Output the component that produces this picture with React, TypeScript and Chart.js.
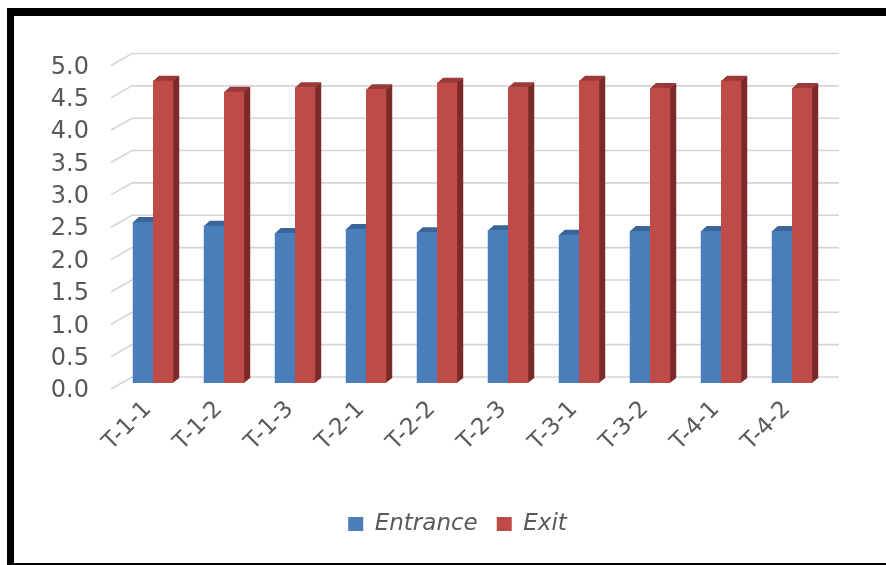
import React, { useEffect, useRef } from "react";
import { Chart, registerables } from "chart.js";

Chart.register(...registerables);

// Sampling points along the x axis
const categories = ["T-1-1", "T-1-2", "T-1-3", "T-2-1", "T-2-2", "T-2-3", "T-3-1", "T-3-2", "T-4-1", "T-4-2"];

// Measured values per point
const entranceValues = [2.49, 2.43, 2.32, 2.38, 2.33, 2.36, 2.29, 2.35, 2.35, 2.35];
const exitValues = [4.67, 4.5, 4.57, 4.54, 4.64, 4.57, 4.67, 4.56, 4.67, 4.56];

// Value axis range
const yMin = 0;
const yMax = 5;
const yStep = 0.5;

const seriesNames = ["Entrance", "Exit"];
const frontColors = ["#4A7EBB", "#BE4B48"];
const capColors = ["#3A6598", "#9A3A38"];
const sideColors = ["#2F5485", "#7A2B29"];

const TEXT_COLOR = "#595959";
const FONT_FAMILY = "'DejaVu Sans', 'Liberation Sans', Arial, sans-serif";

// Pseudo-3D depth of each column and of the wall grid
const BAR_DX = 6;
const BAR_DY = 5;
const GRID_FRONT_DX = -6.5;
const GRID_BACK_DX = 14.5;
const GRID_BACK_RIGHT_DX = 11.5;
const GRID_DY = 6;

const depthPlugin = {
  id: "depth3d",
  beforeDatasetsDraw(chart: any) {
    const { ctx, chartArea, scales } = chart;
    const yScale = scales.y;
    ctx.save();

    // floor-to-wall grid: short diagonal on the side wall, then along the back wall
    ctx.strokeStyle = "#D5D5D5";
    ctx.lineWidth = 1.6;
    yScale.ticks.forEach((t: any) => {
      const py = yScale.getPixelForValue(t.value);
      ctx.beginPath();
      ctx.moveTo(chartArea.left + GRID_FRONT_DX, py + GRID_DY);
      ctx.lineTo(chartArea.left + GRID_BACK_DX, py - GRID_DY);
      ctx.lineTo(chartArea.right + GRID_BACK_RIGHT_DX, py - GRID_DY);
      ctx.stroke();
    });

    // side faces and top caps of the columns (front faces are drawn by Chart.js)
    chart.data.datasets.forEach((_ds: any, di: number) => {
      const meta = chart.getDatasetMeta(di);
      meta.data.forEach((bar: any) => {
        const { x, y, base, width } = bar.getProps(["x", "y", "base", "width"], true);
        const l = x - width / 2;
        const r = x + width / 2;

        ctx.fillStyle = sideColors[di];
        ctx.beginPath();
        ctx.moveTo(r - 0.5, y);
        ctx.lineTo(r + BAR_DX, y - BAR_DY);
        ctx.lineTo(r + BAR_DX, base - BAR_DY);
        ctx.lineTo(r - 0.5, base);
        ctx.closePath();
        ctx.fill();

        ctx.fillStyle = capColors[di];
        ctx.beginPath();
        ctx.moveTo(l, y + 0.5);
        ctx.lineTo(l + BAR_DX, y - BAR_DY);
        ctx.lineTo(r + BAR_DX, y - BAR_DY);
        ctx.lineTo(r, y + 0.5);
        ctx.closePath();
        ctx.fill();
      });
    });

    ctx.restore();
  },
};

export default function App() {
  const canvasRef = useRef<HTMLCanvasElement | null>(null);

  useEffect(() => {
    if (!canvasRef.current) return;
    const chart = new Chart(canvasRef.current, {
      type: "bar",
      data: {
        labels: categories,
        datasets: [
          {
            label: seriesNames[0],
            data: entranceValues,
            backgroundColor: frontColors[0],
            borderWidth: 0,
          },
          {
            label: seriesNames[1],
            data: exitValues,
            backgroundColor: frontColors[1],
            borderWidth: 0,
          },
        ],
      },
      options: {
        responsive: false,
        animation: false,
        devicePixelRatio: 1,
        datasets: {
          bar: {
            categoryPercentage: 0.57,
            barPercentage: 1.0,
          },
        },
        layout: {
          padding: { left: 30, right: 15, top: 43.5, bottom: 17.5 },
        },
        plugins: {
          tooltip: { enabled: false },
          legend: {
            position: "bottom",
            labels: {
              boxWidth: 15,
              boxHeight: 14,
              padding: 19,
              color: TEXT_COLOR,
              font: { family: FONT_FAMILY, size: 23, style: "italic" },
            },
          },
        },
        scales: {
          x: {
            grid: { display: false },
            border: { display: false },
            ticks: {
              color: TEXT_COLOR,
              font: { family: FONT_FAMILY, size: 23 },
              minRotation: 45,
              maxRotation: 45,
              autoSkip: false,
              padding: 5,
              labelOffset: -5,
            },
            afterFit: (scale: any) => {
              scale.height = 110.5;
            },
          },
          y: {
            min: yMin,
            max: yMax,
            grid: { display: false },
            border: { display: false },
            ticks: {
              stepSize: yStep,
              color: TEXT_COLOR,
              font: { family: FONT_FAMILY, size: 24 },
              padding: 20.5,
              labelOffset: 8,
              callback: (v: any) => Number(v).toFixed(1),
            },
            afterFit: (scale: any) => {
              scale.width = 73.5;
            },
          },
          // empty spacer on the right so the plot keeps room for the back wall
          spacer: {
            type: "linear",
            position: "right",
            display: true,
            grid: { display: false },
            border: { display: false },
            ticks: { display: false },
            afterFit: (scale: any) => {
              scale.width = 43.5;
            },
          },
        },
      },
      plugins: [depthPlugin],
    });
    return () => chart.destroy();
  }, []);

  return (
    <div
      style={{
        position: "fixed",
        left: 0,
        top: 0,
        width: 886,
        height: 565,
        background: "#fff",
        overflow: "hidden",
      }}
    >
      <div
        style={{
          position: "absolute",
          left: 7,
          top: 8,
          width: 900,
          height: 547,
          borderLeft: "7px solid #000",
          borderTop: "8px solid #000",
          borderBottom: "8px solid #000",
        }}
      />
      <canvas
        ref={canvasRef}
        width={872}
        height={547}
        style={{ position: "absolute", left: 14, top: 16, width: 872, height: 547 }}
      />
    </div>
  );
}
